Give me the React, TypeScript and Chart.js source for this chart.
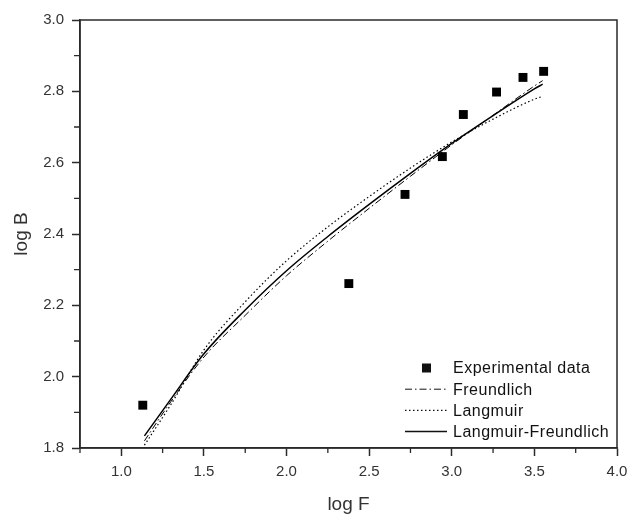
import React, { useEffect, useRef } from "react";
import { Chart, registerables } from "chart.js";

Chart.register(...registerables);

// Experimental data
const EXP_LOG_F = [1.13, 2.377, 2.717, 2.943, 3.07, 3.271, 3.431, 3.556];
const EXP_LOG_B = [1.92, 2.261, 2.511, 2.617, 2.735, 2.798, 2.839, 2.856];

// Model curves
const CURVE_LOG_F = [1.14, 1.3, 1.5, 1.75, 2.0, 2.25, 2.5, 2.75, 3.0, 3.25, 3.5, 3.55];
const FREUNDLICH = [1.82, 1.93, 2.055, 2.172, 2.283, 2.38, 2.472, 2.562, 2.65, 2.733, 2.815, 2.83];
const LANGMUIR = [1.808, 1.922, 2.075, 2.21, 2.325, 2.42, 2.505, 2.585, 2.658, 2.722, 2.778, 2.786];
const LANGMUIR_FREUNDLICH = [1.834, 1.937, 2.064, 2.187, 2.297, 2.393, 2.483, 2.57, 2.654, 2.732, 2.807, 2.82];

// Axis ticks
const X_MAJOR = [1.0, 1.5, 2.0, 2.5, 3.0, 3.5, 4.0];
const X_MINOR = [0.75, 1.25, 1.75, 2.25, 2.75, 3.25, 3.75];
const Y_MAJOR = [1.8, 2.0, 2.2, 2.4, 2.6, 2.8, 3.0];
const Y_MINOR = [1.9, 2.1, 2.3, 2.5, 2.7, 2.9];

const SERIES_LABELS = ["Experimental data", "Freundlich", "Langmuir", "Langmuir-Freundlich"];

const AXIS_COLOR = "#2a2a2a";
const FONT = "'Liberation Sans', Arial, sans-serif";

const toPts = (xs: number[], ys: number[]) => xs.map((x, i) => ({ x, y: ys[i] }));

const framePlugin = {
  id: "frameAndMinor",
  afterDraw(chart: any) {
    const { ctx, chartArea, scales } = chart;
    ctx.save();
    ctx.strokeStyle = AXIS_COLOR;
    ctx.lineWidth = 1.5;
    ctx.strokeRect(chartArea.left, chartArea.top, chartArea.right - chartArea.left, chartArea.bottom - chartArea.top);
    // minor ticks
    ctx.lineWidth = 1.3;
    ctx.beginPath();
    X_MINOR.forEach((v) => {
      const px = scales.x.getPixelForValue(v);
      ctx.moveTo(px, chartArea.bottom);
      ctx.lineTo(px, chartArea.bottom + 5);
    });
    Y_MINOR.forEach((v) => {
      const py = scales.y.getPixelForValue(v);
      ctx.moveTo(chartArea.left, py);
      ctx.lineTo(chartArea.left - 6, py);
    });
    ctx.stroke();
    ctx.restore();
  },
};

const legendPlugin = {
  id: "insideLegend",
  afterDatasetsDraw(chart: any) {
    const { ctx, chartArea } = chart;
    const textX = chartArea.right - 164;
    const rowH = 21.2;
    const firstY = chartArea.bottom - 80;
    ctx.save();
    ctx.font = `16px ${FONT}`;
    (ctx as any).letterSpacing = "0.5px";
    ctx.textBaseline = "middle";
    ctx.textAlign = "left";
    ctx.fillStyle = "#111";
    chart.data.datasets.forEach((ds: any, i: number) => {
      const y = firstY + i * rowH;
      if (i === 0) {
        ctx.fillRect(chartArea.right - 195, y - 4.5, 9, 9);
      } else {
        ctx.beginPath();
        ctx.strokeStyle = "#111";
        ctx.lineWidth = ds.borderWidth;
        ctx.setLineDash(ds.borderDash || []);
        ctx.moveTo(chartArea.right - 212, y);
        ctx.lineTo(chartArea.right - 170, y);
        ctx.stroke();
        ctx.setLineDash([]);
      }
      ctx.fillText(ds.label, textX, y + 1);
    });
    ctx.restore();
  },
};

export default function App() {
  const ref = useRef<HTMLCanvasElement | null>(null);
  useEffect(() => {
    document.body.style.margin = "0";
    if (!ref.current) return;
    const chart = new Chart(ref.current, {
      type: "scatter",
      data: {
        datasets: [
          {
            label: SERIES_LABELS[0],
            data: toPts(EXP_LOG_F, EXP_LOG_B),
            pointStyle: "rect",
            pointRadius: 6.3,
            backgroundColor: "#000",
            borderColor: "#000",
            borderWidth: 0,
            showLine: false,
          },
          {
            label: SERIES_LABELS[1],
            data: toPts(CURVE_LOG_F, FREUNDLICH),
            showLine: true,
            pointRadius: 0,
            borderColor: "#000",
            borderWidth: 1,
            borderDash: [7, 3, 1.5, 3],
            cubicInterpolationMode: "monotone",
          },
          {
            label: SERIES_LABELS[2],
            data: toPts(CURVE_LOG_F, LANGMUIR),
            showLine: true,
            pointRadius: 0,
            borderColor: "#000",
            borderWidth: 1.2,
            borderDash: [1.5, 2.5],
            cubicInterpolationMode: "monotone",
          },
          {
            label: SERIES_LABELS[3],
            data: toPts(CURVE_LOG_F, LANGMUIR_FREUNDLICH),
            showLine: true,
            pointRadius: 0,
            borderColor: "#000",
            borderWidth: 1.5,
            cubicInterpolationMode: "monotone",
          },
        ] as any,
      },
      options: {
        animation: false,
        responsive: true,
        maintainAspectRatio: false,
        layout: { padding: { top: 20, right: 12, left: 0, bottom: 0 } },
        plugins: { legend: { display: false }, tooltip: { enabled: false } },
        scales: {
          x: {
            type: "linear",
            min: 0.75,
            max: 4.0,
            afterBuildTicks: (s: any) => {
              s.ticks = X_MAJOR.map((v) => ({ value: v }));
            },
            afterFit: (s: any) => {
              s.height = 81;
              s.paddingLeft = 0;
              s.paddingRight = 0;
            },
            grid: {
              drawOnChartArea: false,
              drawTicks: true,
              tickLength: 8,
              tickColor: AXIS_COLOR,
              tickWidth: 1.5,
            },
            border: { display: true, color: AXIS_COLOR, width: 1.5 },
            ticks: {
              padding: 7,
              color: "#333",
              font: { family: FONT, size: 15 },
              callback: (v: any) => Number(v).toFixed(1),
            },
            title: {
              display: true,
              text: "log F",
              color: "#333",
              font: { family: FONT, size: 19 },
              padding: { top: 0, bottom: 13 },
            },
          },
          y: {
            type: "linear",
            min: 1.8,
            max: 3.0,
            afterBuildTicks: (s: any) => {
              s.ticks = Y_MAJOR.map((v) => ({ value: v }));
            },
            afterFit: (s: any) => {
              s.width = 80;
              s.paddingTop = 0;
              s.paddingBottom = 0;
            },
            grid: {
              drawOnChartArea: false,
              drawTicks: true,
              tickLength: 8,
              tickColor: AXIS_COLOR,
              tickWidth: 1.5,
            },
            border: { display: true, color: AXIS_COLOR, width: 1.5 },
            ticks: {
              padding: 8,
              color: "#333",
              font: { family: FONT, size: 15 },
              callback: (v: any) => Number(v).toFixed(1),
            },
            title: {
              display: true,
              text: "log B",
              color: "#333",
              font: { family: FONT, size: 19 },
              padding: { top: 10, bottom: 0 },
            },
          },
        },
      } as any,
      plugins: [framePlugin, legendPlugin],
    });
    return () => chart.destroy();
  }, []);
  return (
    <div style={{ position: "relative", width: "629px", height: "529px" }}>
      <canvas ref={ref} />
    </div>
  );
}
